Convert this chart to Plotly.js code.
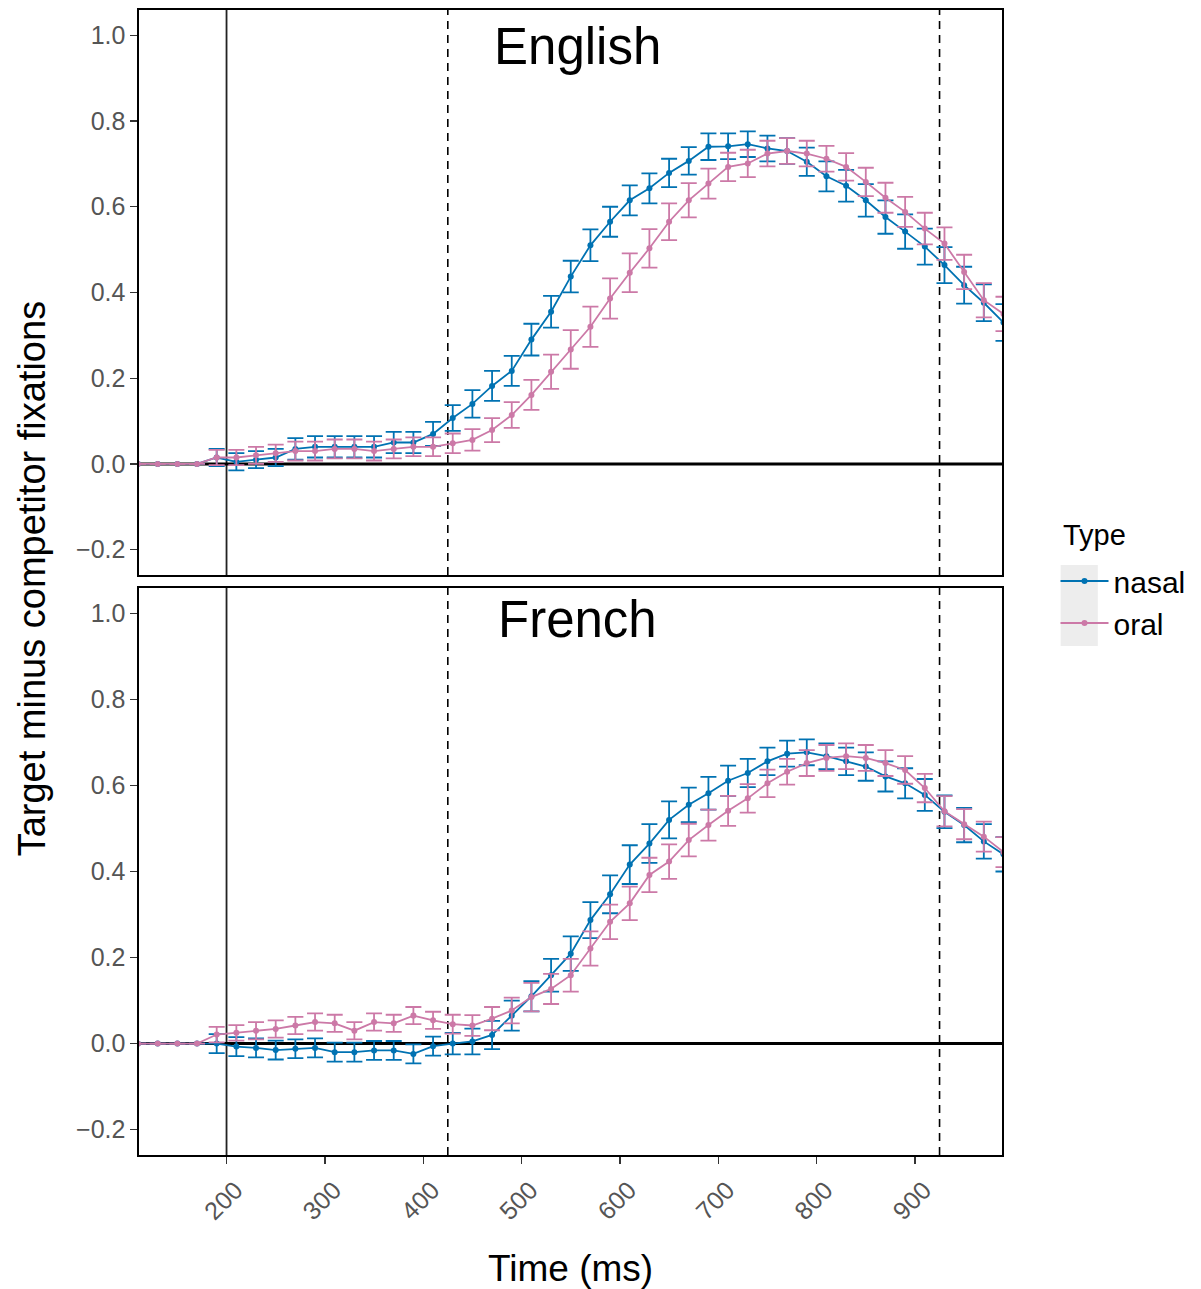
<!DOCTYPE html>
<html>
<head>
<meta charset="utf-8">
<script src="https://cdn.plot.ly/plotly-3.0.1.min.js"></script>
<style>html,body{margin:0;padding:0;background:#fff;}#chart{width:1201px;height:1289px;}</style>
</head>
<body>
<div id="chart"></div>
<script>
const timeMs = [110,130,150,170,190,210,230,250,270,290,310,330,350,370,390,410,430,450,470,490,510,530,550,570,590,610,630,650,670,690,710,730,750,770,790,810,830,850,870,890,910,930,950,970,990];

const engNasal = [0,0,0,0,0.015,0.005,0.01,0.015,0.035,0.04,0.04,0.04,0.04,0.05,0.05,0.07,0.107,0.14,0.182,0.217,0.29,0.355,0.437,0.51,0.565,0.615,0.643,0.679,0.707,0.74,0.741,0.746,0.736,0.73,0.705,0.671,0.649,0.615,0.576,0.542,0.507,0.464,0.417,0.376,0.33];
const engNasalErr = [0,0,0,0,0.02,0.02,0.02,0.02,0.025,0.025,0.025,0.025,0.025,0.025,0.025,0.028,0.03,0.032,0.035,0.035,0.037,0.037,0.037,0.037,0.035,0.035,0.035,0.033,0.032,0.031,0.03,0.03,0.03,0.03,0.033,0.035,0.037,0.038,0.039,0.04,0.042,0.042,0.043,0.043,0.043];
const engOral = [0,0,0,0,0.015,0.015,0.02,0.025,0.03,0.03,0.035,0.035,0.03,0.035,0.04,0.04,0.048,0.056,0.079,0.114,0.161,0.215,0.267,0.32,0.386,0.446,0.503,0.565,0.615,0.654,0.693,0.701,0.724,0.73,0.724,0.712,0.693,0.658,0.621,0.588,0.549,0.514,0.448,0.382,0.35];
const engOralErr = [0,0,0,0,0.018,0.018,0.02,0.02,0.022,0.022,0.022,0.022,0.022,0.022,0.022,0.022,0.023,0.025,0.028,0.03,0.035,0.04,0.045,0.047,0.047,0.045,0.045,0.043,0.04,0.035,0.033,0.032,0.03,0.03,0.03,0.03,0.032,0.033,0.035,0.035,0.037,0.038,0.04,0.04,0.04];

const frNasal = [0,0,0,0,0,-0.007,-0.01,-0.015,-0.012,-0.01,-0.02,-0.02,-0.016,-0.016,-0.024,-0.006,0.0,0.005,0.02,0.065,0.11,0.159,0.209,0.287,0.347,0.416,0.465,0.52,0.555,0.582,0.611,0.629,0.656,0.674,0.677,0.668,0.656,0.644,0.621,0.605,0.578,0.539,0.508,0.47,0.44];
const frNasalErr = [0,0,0,0,0.022,0.022,0.022,0.022,0.022,0.022,0.022,0.022,0.022,0.022,0.022,0.022,0.025,0.03,0.033,0.035,0.035,0.038,0.04,0.042,0.044,0.045,0.045,0.043,0.04,0.038,0.035,0.033,0.032,0.03,0.03,0.03,0.032,0.033,0.035,0.035,0.037,0.038,0.04,0.04,0.04];
const frOral = [0,0,0,0,0.021,0.025,0.03,0.034,0.042,0.05,0.047,0.03,0.05,0.047,0.065,0.054,0.045,0.042,0.058,0.077,0.108,0.127,0.159,0.221,0.283,0.326,0.392,0.423,0.473,0.508,0.541,0.57,0.605,0.632,0.652,0.664,0.668,0.664,0.652,0.636,0.594,0.54,0.51,0.481,0.445];
const frOralErr = [0,0,0,0,0.018,0.018,0.02,0.02,0.02,0.02,0.02,0.02,0.02,0.02,0.02,0.02,0.022,0.024,0.027,0.03,0.033,0.035,0.038,0.04,0.04,0.039,0.04,0.04,0.038,0.036,0.035,0.033,0.032,0.03,0.03,0.03,0.03,0.03,0.03,0.032,0.033,0.035,0.035,0.035,0.035];

const typeNames = ['nasal','oral'];
const typeColors = ['#0072B2','#CC79A7'];
const yTicks = [-0.2,0,0.2,0.4,0.6,0.8,1.0];
const yTickText = ['\u22120.2','0.0','0.2','0.4','0.6','0.8','1.0'];
const xTicks = [200,300,400,500,600,700,800,900];
const markerLines = [200, 425, 925];

function mk(y, err, idx, xa, ya, legend) {
  return {
    x: timeMs, y: y, type: 'scatter', mode: 'lines+markers',
    name: typeNames[idx], legendgroup: typeNames[idx], showlegend: legend,
    xaxis: xa, yaxis: ya,
    line: {color: typeColors[idx], width: 1.8},
    marker: {color: typeColors[idx], size: 6},
    error_y: {type: 'data', array: err, visible: true, color: typeColors[idx], thickness: 1.8, width: 8}
  };
}

const data = [
  mk(engNasal, engNasalErr, 0, 'x2', 'y2', true),
  mk(engOral, engOralErr, 1, 'x2', 'y2', true),
  mk(frNasal, frNasalErr, 0, 'x', 'y', false),
  mk(frOral, frOralErr, 1, 'x', 'y', false)
];

const tickFont = {family: 'Liberation Sans, Arial, sans-serif', size: 25, color: '#555555'};
const xRange = [111, 988.5];
const yRange = [-0.259, 1.059];

const shapes = [];
[['x','y'],['x2','y2']].forEach(function(p){
  shapes.push({type:'line', xref:p[0], yref:p[1]+' domain', x0:markerLines[0], x1:markerLines[0], y0:0, y1:1, line:{color:'#222222', width:1.8}, layer:'below'});
  shapes.push({type:'line', xref:p[0], yref:p[1]+' domain', x0:markerLines[1], x1:markerLines[1], y0:0, y1:1, line:{color:'#000000', width:1.6, dash:'8px,6px'}, layer:'below'});
  shapes.push({type:'line', xref:p[0], yref:p[1]+' domain', x0:markerLines[2], x1:markerLines[2], y0:0, y1:1, line:{color:'#000000', width:1.6, dash:'8px,6px'}, layer:'below'});
  shapes.push({type:'line', xref:p[0]+' domain', yref:p[1], x0:0, x1:1, y0:0, y1:0, line:{color:'#000000', width:3}, layer:'below'});
});
shapes.push({type:'rect', xref:'paper', yref:'paper', x0:1.068, x1:1.111, y0:0.4445, y1:0.5153, fillcolor:'#ededed', line:{width:0}, layer:'below'});

const axisCommon = {showline:true, mirror:true, linecolor:'#000000', linewidth:1.6, showgrid:false, zeroline:false};

const layout = {
  width: 1201, height: 1289,
  margin: {l:139, r:197, t:10, b:134},
  paper_bgcolor:'#ffffff', plot_bgcolor:'#ffffff',
  font: {family:'Liberation Sans, Arial, sans-serif', color:'#000000'},
  showlegend: true,
  legend: {
    x: 1.062, y: 0.524, xanchor:'left', yanchor:'top',
    font: {size:30, color:'#000000'},
    bgcolor:'rgba(0,0,0,0)', itemwidth: 48, tracegroupgap: 0
  },
  xaxis: Object.assign({}, axisCommon, {anchor:'y', domain:[0,1], range:xRange, tickvals:xTicks, ticktext:xTicks.map(String), ticks:'outside', ticklen:7, tickwidth:1.4, tickcolor:'#333333', tickangle:-45, tickfont:tickFont, ticklabelshift:9, ticklabelstandoff:2}),
  xaxis2: Object.assign({}, axisCommon, {anchor:'y2', domain:[0,1], range:xRange, matches:'x', showticklabels:false, ticks:''}),
  yaxis: Object.assign({}, axisCommon, {anchor:'x', domain:[0,0.4952], range:yRange, tickvals:yTicks, ticktext:yTickText, ticks:'outside', ticklen:7, tickwidth:1.4, tickcolor:'#333333', tickfont:tickFont}),
  yaxis2: Object.assign({}, axisCommon, {anchor:'x2', domain:[0.5066,1], range:yRange, tickvals:yTicks, ticktext:yTickText, ticks:'outside', ticklen:7, tickwidth:1.4, tickcolor:'#333333', tickfont:tickFont}),
  shapes: shapes,
  annotations: [
    {text:'English', xref:'x2', yref:'y2', x:557, y:0.975, xanchor:'center', yanchor:'middle', showarrow:false, font:{size:51, color:'#000000'}},
    {text:'French', xref:'x', yref:'y', x:557, y:0.985, xanchor:'center', yanchor:'middle', showarrow:false, font:{size:51, color:'#000000'}},
    {text:'Type', xref:'paper', yref:'paper', x:1.068, y:0.5415, xanchor:'left', yanchor:'middle', showarrow:false, font:{size:29, color:'#000000'}},
    {text:'Target minus competitor fixations', xref:'paper', yref:'paper', x:-0.1237, y:0.503, xanchor:'center', yanchor:'middle', textangle:-90, showarrow:false, font:{size:38, color:'#000000'}},
    {text:'Time (ms)', xref:'paper', yref:'paper', x:0.5, y:-0.0987, xanchor:'center', yanchor:'middle', showarrow:false, font:{size:37, color:'#000000'}}
  ]
};

Plotly.newPlot('chart', data, layout, {staticPlot:true, displayModeBar:false});
</script>
</body>
</html>
